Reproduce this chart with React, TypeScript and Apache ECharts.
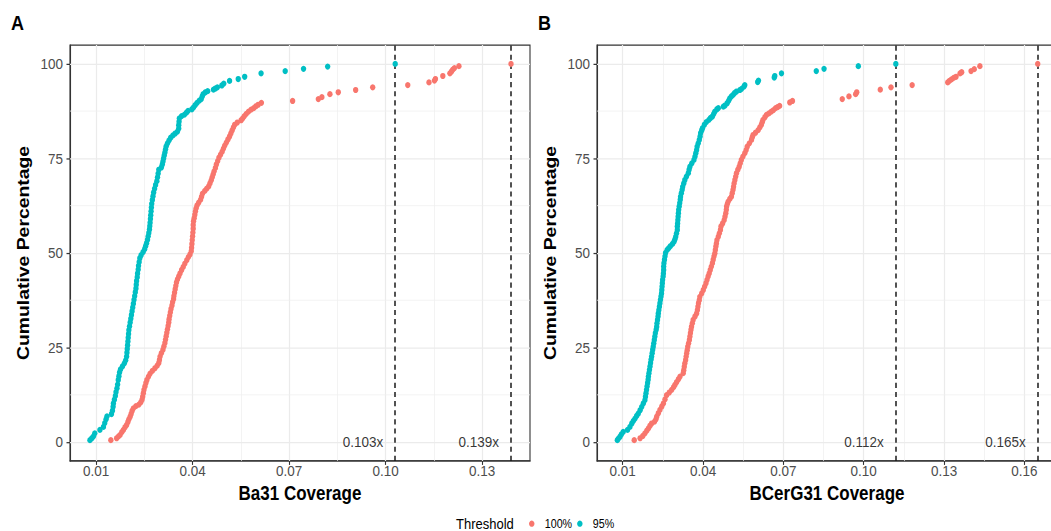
import React, { useEffect, useRef } from "react";
import * as echarts from "echarts";

// ---------- data (coverage, cumulative percentage) ----------
const ba31Full: [number, number][] = [
  [0.0146,0.5],[0.0164,1.0],[0.0170,1.5],[0.0175,1.9],[0.0180,2.6],[0.0185,3.2],[0.0190,3.9],[0.0195,4.5],[0.0199,5.3],[0.0202,6.0],
  [0.0206,6.7],[0.0209,7.4],[0.0212,8.2],[0.0216,8.9],[0.0224,9.5],[0.0233,9.9],[0.0239,10.5],[0.0243,11.2],[0.0245,12.0],[0.0247,12.9],
  [0.0249,13.8],[0.0252,14.7],[0.0255,15.6],[0.0258,16.4],[0.0263,17.3],[0.0268,18.1],[0.0275,18.8],[0.0283,19.5],[0.0290,20.2],[0.0295,20.9],
  [0.0297,21.7],[0.0299,22.6],[0.0303,23.5],[0.0308,24.4],[0.0311,25.3],[0.0314,26.2],[0.0316,27.1],[0.0318,28.0],[0.0320,28.9],[0.0322,29.8],
  [0.0324,30.7],[0.0326,31.6],[0.0327,32.5],[0.0329,33.4],[0.0331,34.3],[0.0333,35.2],[0.0336,36.1],[0.0338,37.0],[0.0341,37.8],[0.0342,38.6],
  [0.0344,39.5],[0.0346,40.4],[0.0348,41.3],[0.0350,42.2],[0.0353,43.0],[0.0357,43.8],[0.0361,44.6],[0.0366,45.5],[0.0371,46.3],[0.0376,47.2],
  [0.0382,48.1],[0.0387,48.9],[0.0392,49.6],[0.0396,50.5],[0.0397,51.4],[0.0398,52.4],[0.0399,53.4],[0.0400,54.4],[0.0401,55.4],[0.0402,56.4],
  [0.0402,57.4],[0.0403,58.4],[0.0405,59.2],[0.0407,60.1],[0.0409,61.0],[0.0411,61.8],[0.0414,62.6],[0.0419,63.3],[0.0425,64.1],[0.0428,64.9],
  [0.0431,65.7],[0.0438,66.4],[0.0444,67.0],[0.0450,67.6],[0.0454,68.4],[0.0458,69.2],[0.0461,70.0],[0.0464,70.8],[0.0467,71.6],[0.0471,72.5],
  [0.0474,73.4],[0.0478,74.3],[0.0482,75.2],[0.0487,76.0],[0.0492,76.8],[0.0496,77.6],[0.0500,78.4],[0.0505,79.2],[0.0510,80.0],[0.0515,80.8],
  [0.0519,81.6],[0.0523,82.4],[0.0527,83.2],[0.0531,83.9],[0.0539,84.5],[0.0551,85.1],[0.0556,85.6],[0.0561,86.2],[0.0567,86.8],[0.0574,87.4],
  [0.0582,87.9],[0.0590,88.3],[0.0597,88.8],[0.0604,89.2],[0.0614,89.7],[0.0711,90.2],[0.0791,90.7],[0.0802,91.2],[0.0827,92.0],[0.0853,92.5],
  [0.0907,93.1],[0.0960,93.8],[0.1069,94.4],[0.1135,95.1],[0.1152,95.6],[0.1155,96.0],[0.1178,96.8],[0.1200,97.5],[0.1205,98.0],[0.1209,98.5],
  [0.1214,98.9],[0.1228,99.4],[0.139,100]
];

const ba31P95: [number, number][] = [
  [0.0081,0.5],[0.0087,1.0],[0.0092,1.5],[0.0096,2.3],[0.0112,3.2],[0.0123,4.0],[0.0127,5.0],[0.0131,6.0],[0.0134,6.8],[0.0148,7.4],
  [0.0151,8.3],[0.0153,9.3],[0.0154,10.2],[0.0157,11.2],[0.0160,12.2],[0.0162,13.2],[0.0165,14.2],[0.0167,15.2],[0.0169,16.4],[0.0171,17.4],
  [0.0173,18.4],[0.0176,19.2],[0.0182,20.0],[0.0188,20.8],[0.0192,21.6],[0.0195,22.6],[0.0196,23.6],[0.0197,24.6],[0.0198,25.6],[0.0199,26.6],
  [0.0200,27.6],[0.0201,28.6],[0.0202,29.6],[0.0204,30.6],[0.0206,31.6],[0.0208,32.6],[0.0210,33.6],[0.0212,34.6],[0.0214,35.6],[0.0216,36.6],
  [0.0218,37.6],[0.0220,38.6],[0.0222,39.6],[0.0224,40.6],[0.0225,41.6],[0.0226,42.6],[0.0228,43.6],[0.0229,44.6],[0.0231,45.6],[0.0232,46.6],
  [0.0234,47.6],[0.0236,48.6],[0.0240,49.4],[0.0246,50.2],[0.0251,51.0],[0.0254,51.8],[0.0257,52.6],[0.0260,53.5],[0.0262,54.4],[0.0264,55.3],
  [0.0266,56.2],[0.0267,57.1],[0.0268,58.0],[0.0269,59.0],[0.0270,60.0],[0.0271,61.0],[0.0272,62.0],[0.0273,63.0],[0.0275,64.0],[0.0277,65.0],
  [0.0279,66.0],[0.0282,67.0],[0.0285,68.0],[0.0289,69.0],[0.0291,70.0],[0.0293,71.0],[0.0295,72.0],[0.0303,72.6],[0.0306,73.4],[0.0308,74.2],
  [0.0310,75.0],[0.0312,75.8],[0.0314,76.6],[0.0316,77.4],[0.0318,78.2],[0.0322,79.0],[0.0327,79.8],[0.0332,80.5],[0.0339,81.1],[0.0346,81.6],
  [0.0353,82.1],[0.0357,82.9],[0.0357,83.8],[0.0358,84.7],[0.0359,85.6],[0.0366,86.2],[0.0375,86.6],[0.0381,87.1],[0.0386,87.6],[0.0398,88.0],
  [0.0403,88.5],[0.0408,89.1],[0.0414,89.7],[0.0421,90.3],[0.0427,90.7],[0.0430,91.4],[0.0433,92.0],[0.0440,92.5],[0.0447,92.8],[0.0465,93.2],
  [0.0471,93.5],[0.0477,93.8],[0.0491,94.3],[0.0497,94.8],[0.0515,95.5],[0.0542,96.0],[0.0562,96.6],[0.0613,97.5],[0.0688,98.1],[0.0745,98.7],
  [0.0820,99.3],[0.103,100]
];

const bcerFull: [number, number][] = [
  [0.0143,0.5],[0.0165,1.0],[0.0175,1.6],[0.0183,2.3],[0.0190,3.0],[0.0196,3.6],[0.0202,4.3],[0.0208,4.9],[0.0219,5.4],[0.0224,6.0],
  [0.0227,6.7],[0.0233,7.6],[0.0239,8.5],[0.0246,9.4],[0.0252,10.2],[0.0258,11.3],[0.0264,12.4],[0.0274,13.1],[0.0283,13.8],[0.0290,14.5],
  [0.0295,15.1],[0.0301,15.8],[0.0308,16.6],[0.0314,17.3],[0.0326,18.2],[0.0328,19.0],[0.0330,19.9],[0.0332,20.8],[0.0335,21.7],[0.0337,22.6],
  [0.0339,23.5],[0.0341,24.3],[0.0343,25.2],[0.0346,26.1],[0.0349,27.0],[0.0351,27.9],[0.0353,28.8],[0.0355,29.7],[0.0357,30.5],[0.0360,31.4],
  [0.0363,32.3],[0.0370,33.2],[0.0376,34.0],[0.0379,34.9],[0.0381,35.8],[0.0383,36.7],[0.0386,37.5],[0.0388,38.4],[0.0395,39.3],[0.0401,40.2],
  [0.0406,41.1],[0.0411,42.0],[0.0415,42.9],[0.0419,43.8],[0.0423,44.6],[0.0427,45.5],[0.0431,46.4],[0.0435,47.3],[0.0438,48.2],[0.0441,49.1],
  [0.0444,49.9],[0.0446,50.8],[0.0448,51.7],[0.0450,52.5],[0.0452,53.4],[0.0457,54.3],[0.0461,55.2],[0.0465,56.1],[0.0467,57.0],[0.0473,57.8],
  [0.0479,58.7],[0.0482,59.6],[0.0485,60.5],[0.0487,61.4],[0.0488,62.3],[0.0491,63.0],[0.0494,63.6],[0.0500,64.3],[0.0506,64.9],[0.0509,65.8],
  [0.0512,66.7],[0.0514,67.5],[0.0516,68.4],[0.0519,69.3],[0.0522,70.2],[0.0525,71.1],[0.0530,72.0],[0.0535,72.8],[0.0539,73.7],[0.0543,74.6],
  [0.0549,75.5],[0.0556,76.4],[0.0561,77.2],[0.0565,78.1],[0.0573,79.0],[0.0581,79.9],[0.0584,80.6],[0.0587,81.2],[0.0596,81.8],[0.0606,82.5],
  [0.0612,83.2],[0.0618,83.9],[0.0621,84.6],[0.0624,85.2],[0.0631,85.9],[0.0637,86.5],[0.0646,86.9],[0.0655,87.4],[0.0663,87.8],[0.0671,88.3],
  [0.0679,88.6],[0.0686,88.9],[0.0724,89.8],[0.0734,90.2],[0.0920,90.7],[0.0945,91.4],[0.0970,92.0],[0.0974,92.5],[0.1062,93.2],[0.1102,93.8],
  [0.1181,94.4],[0.1314,95.1],[0.1320,95.5],[0.1328,95.9],[0.1336,96.3],[0.1345,96.6],[0.1360,97.5],[0.1366,97.8],[0.1401,98.1],[0.1413,98.6],
  [0.1434,99.4],[0.165,100]
];

const bcerP95: [number, number][] = [
  [0.0080,0.5],[0.0084,0.9],[0.0090,1.4],[0.0095,2.0],[0.0102,2.7],[0.0118,3.2],[0.0127,4.0],[0.0134,4.9],[0.0140,5.6],[0.0146,6.2],
  [0.0152,6.9],[0.0158,7.5],[0.0165,8.4],[0.0171,9.3],[0.0177,10.2],[0.0183,11.1],[0.0185,12.0],[0.0187,12.9],[0.0189,13.8],[0.0191,14.7],
  [0.0193,15.6],[0.0195,16.5],[0.0196,17.3],[0.0198,18.2],[0.0200,19.1],[0.0202,20.0],[0.0204,20.9],[0.0206,21.8],[0.0208,22.6],[0.0210,23.5],
  [0.0212,24.4],[0.0214,25.2],[0.0216,26.1],[0.0218,27.0],[0.0220,27.9],[0.0222,28.8],[0.0225,29.7],[0.0227,30.5],[0.0228,31.4],[0.0230,32.3],
  [0.0232,33.2],[0.0233,34.0],[0.0235,34.9],[0.0237,35.8],[0.0239,36.7],[0.0241,37.6],[0.0243,38.5],[0.0245,39.3],[0.0246,40.2],[0.0247,41.1],
  [0.0248,42.0],[0.0249,42.9],[0.0251,43.8],[0.0252,44.6],[0.0253,45.5],[0.0253,46.4],[0.0254,47.3],[0.0256,48.2],[0.0258,49.1],[0.0260,50.0],
  [0.0266,50.8],[0.0272,51.3],[0.0278,51.8],[0.0286,52.4],[0.0292,53.0],[0.0295,53.6],[0.0298,54.3],[0.0301,55.2],[0.0304,56.1],[0.0304,57.0],
  [0.0305,57.8],[0.0306,58.7],[0.0307,59.6],[0.0308,60.5],[0.0309,61.4],[0.0311,62.3],[0.0313,63.2],[0.0315,64.1],[0.0316,64.9],[0.0319,65.8],
  [0.0322,66.7],[0.0324,67.5],[0.0328,68.4],[0.0332,69.3],[0.0338,70.2],[0.0345,71.1],[0.0348,72.0],[0.0351,72.8],[0.0358,73.7],[0.0366,74.6],
  [0.0370,75.5],[0.0373,76.4],[0.0376,77.2],[0.0378,78.1],[0.0382,79.0],[0.0386,79.9],[0.0389,80.8],[0.0391,81.7],[0.0395,82.4],[0.0398,83.0],
  [0.0405,83.9],[0.0412,84.6],[0.0422,85.2],[0.0428,85.7],[0.0435,86.1],[0.0440,86.8],[0.0444,87.4],[0.0452,88.0],[0.0457,88.3],[0.0476,88.7],
  [0.0482,89.0],[0.0490,89.6],[0.0496,90.3],[0.0500,90.9],[0.0506,91.4],[0.0512,91.8],[0.0518,92.3],[0.0525,92.7],[0.0538,93.1],[0.0544,93.4],
  [0.0553,94.0],[0.0556,94.4],[0.0604,95.2],[0.0607,95.6],[0.0666,96.4],[0.0668,96.8],[0.0693,97.5],[0.0823,98.1],[0.0852,98.7],[0.0980,99.4],
  [0.112,100]
];

const ba31Thresholds = [0.103, 0.139];
const bcerThresholds = [0.112, 0.165];

const yTicks = [0, 25, 50, 75, 100];
const yMinor = [12.5, 37.5, 62.5, 87.5];
const xTicksA = [0.01, 0.04, 0.07, 0.1, 0.13];
const xMinorA = [0.025, 0.055, 0.085, 0.115];
const xTicksB = [0.01, 0.04, 0.07, 0.1, 0.13, 0.16];
const xMinorB = [0.025, 0.055, 0.085, 0.115, 0.145];

const panelTitles = ["Ba31 Coverage", "BCerG31 Coverage"];
const seriesNames = ["100%", "95%"];
const seriesColors = ["#F8766D", "#00BFC4"];

// ---------- layout ----------
const W = 1051;
const W_INNER = 1062;
const H = 531;
const H_INNER = 466;
const SY = H / H_INNER;
const FONT = "'Liberation Sans', Arial, Helvetica, sans-serif";

function buildOption() {
  const panels = [
    { full: ba31Full, p95: ba31P95, thr: ba31Thresholds, xt: xTicksA, xm: xMinorA, min: 0.0019, max: 0.1449, left: 70 },
    { full: bcerFull, p95: bcerP95, thr: bcerThresholds, xt: xTicksB, xm: xMinorB, min: 0.0004, max: 0.1722, left: 597 },
  ];
  const grids: any[] = [];
  const xAxes: any[] = [];
  const yAxes: any[] = [];
  const series: any[] = [];

  panels.forEach((p, i) => {
    grids.push({
      left: p.left, top: 39.5, width: 460, height: 365,
      show: true, backgroundColor: "#ffffff", borderColor: "#333333", borderWidth: 1.1,
    });
    xAxes.push({
      type: "value", gridIndex: i, min: p.min, max: p.max,
      name: panelTitles[i], nameLocation: "middle", nameGap: 16.5,
      nameTextStyle: { fontFamily: FONT, fontSize: 17, fontWeight: "bold", color: "#000" },
      axisLine: { show: true, onZero: false, lineStyle: { color: "#333333", width: 1.1 } },
      axisTick: { show: true, customValues: p.xt, length: 3.5, lineStyle: { color: "#333333", width: 1.1 } },
      axisLabel: { customValues: p.xt, formatter: (v: number) => v.toFixed(2), margin: 1.5, fontFamily: FONT, fontSize: 13.5, color: "#4D4D4D" },
      splitLine: { show: false },
    });
    yAxes.push({
      type: "value", gridIndex: i, min: -5, max: 105,
      name: "Cumulative Percentage", nameLocation: "middle", nameGap: 38, nameRotate: 90,
      nameTextStyle: { fontFamily: FONT, fontSize: 17, fontWeight: "bold", color: "#000" },
      axisLine: { show: true, onZero: false, lineStyle: { color: "#333333", width: 1.1 } },
      axisTick: { show: true, customValues: yTicks, length: 3.5, lineStyle: { color: "#333333", width: 1.1 } },
      axisLabel: { customValues: yTicks, formatter: (v: number) => String(v), margin: 7, fontFamily: FONT, fontSize: 13.5, color: "#4D4D4D" },
      splitLine: { show: false },
    });

    const thrData = p.thr.map((t) => [t, 0]);
    // grid lines
    series.push({
      type: "scatter", name: "grid" + i, xAxisIndex: i, yAxisIndex: i, data: thrData, symbolSize: 0, silent: true, z: 1,
      markLine: {
        silent: true, symbol: ["none", "none"], z: 1, precision: 5, label: { show: false }, animation: false,
        data: [
          ...p.xt.map((v) => ({ xAxis: v, lineStyle: { color: "#EBEBEB", width: 1.2, type: "solid" } })),
          ...p.xm.map((v) => ({ xAxis: v, lineStyle: { color: "#EFEFEF", width: 0.7, type: "solid" } })),
          ...yTicks.map((v) => ({ yAxis: v, lineStyle: { color: "#EBEBEB", width: 1.1, type: "solid" } })),
          ...yMinor.map((v) => ({ yAxis: v, lineStyle: { color: "#EFEFEF", width: 0.7, type: "solid" } })),
        ],
      },
    });
    // threshold dashed lines + labels
    series.push({
      type: "scatter", name: "thr" + i, xAxisIndex: i, yAxisIndex: i, data: thrData, symbolSize: 0, silent: true, z: 4,
      label: {
        show: true, position: "left", distance: 12,
        formatter: (d: any) => d.value[0].toFixed(3) + "x",
        fontFamily: FONT, fontSize: 13.5, color: "#000",
      },
      markLine: {
        silent: true, symbol: ["none", "none"], z: 2, precision: 5, label: { show: false }, animation: false,
        lineStyle: { color: "#1a1a1a", width: 1.5, type: [4.5, 3.5] },
        data: p.thr.map((t) => ({ xAxis: t })),
      },
    });
    [p.full, p.p95].forEach((d, k) => {
      series.push({
        type: "scatter", name: seriesNames[k], xAxisIndex: i, yAxisIndex: i, data: d,
        symbol: "circle", symbolSize: 5.4, z: 3,
        itemStyle: { color: seriesColors[k], opacity: 1 },
        emphasis: { disabled: true },
      });
    });
  });

  return {
    animation: false,
    backgroundColor: "#ffffff",
    grid: grids,
    xAxis: xAxes,
    yAxis: yAxes,
    series,
    legend: {
      data: seriesNames.map((n, k) => ({ name: n, icon: "circle", itemStyle: { color: seriesColors[k] } })),
      left: 529, top: 453.6, orient: "horizontal", padding: 0,
      itemWidth: 16, itemHeight: 5.5, itemGap: 5,
      selectedMode: false,
      textStyle: { fontFamily: FONT, fontSize: 10.7, color: "#000", lineHeight: 12 },
    },
    graphic: [
      { type: "text", x: 456, y: 459.6, silent: true, style: { text: "Threshold", fontFamily: FONT, fontSize: 13, fill: "#000", verticalAlign: "middle", align: "left" } },
      { type: "text", x: 11, y: 20.3, silent: true, style: { text: "A", fontFamily: FONT, fontSize: 18, fontWeight: "bold", fill: "#000", verticalAlign: "middle", align: "left" } },
      { type: "text", x: 538, y: 20.3, silent: true, style: { text: "B", fontFamily: FONT, fontSize: 18, fontWeight: "bold", fill: "#000", verticalAlign: "middle", align: "left" } },
    ],
  };
}

export default function App() {
  const ref = useRef<HTMLDivElement>(null);
  useEffect(() => {
    if (!ref.current) return;
    const chart = echarts.init(ref.current, null, { renderer: "svg", width: W_INNER, height: H_INNER });
    chart.setOption(buildOption() as any);
    return () => chart.dispose();
  }, []);
  return (
    <div style={{ position: "absolute", left: 0, top: 0, width: W, height: H, overflow: "hidden", background: "#fff" }}>
      <div
        ref={ref}
        style={{
          position: "absolute", left: 0, top: 0, width: W_INNER, height: H_INNER,
          transform: `scaleY(${SY})`, transformOrigin: "0 0",
        }}
      />
    </div>
  );
}
